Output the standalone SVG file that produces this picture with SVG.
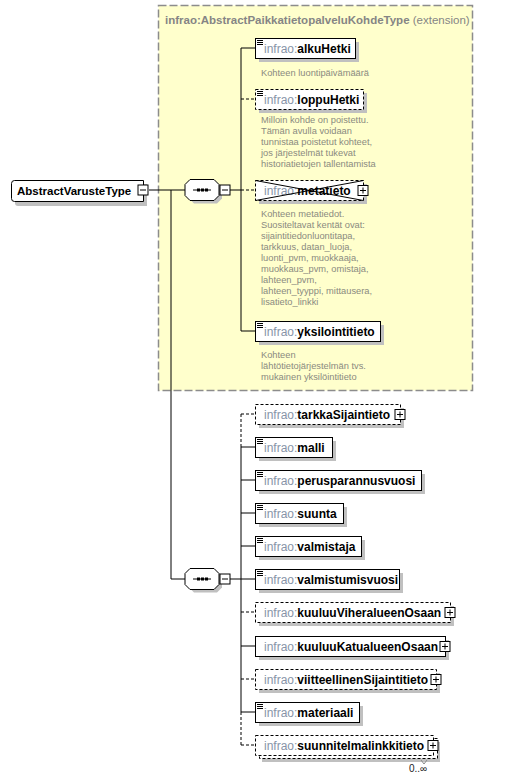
<svg xmlns="http://www.w3.org/2000/svg" width="515" height="780" viewBox="0 0 515 780">
<style>
text{font-family:"Liberation Sans",Arial,sans-serif}
.lbl{font-size:12px}
.pf{fill:#8794a8}
.nm{font-weight:bold;fill:#000}
.ds{font-size:9.3px;fill:#8a8a80}
.box{fill:#fff;stroke:#000;stroke-width:1}
.opt{fill:#fff;stroke:#000;stroke-width:1;stroke-dasharray:3 2}
.sh{fill:#c0c0c0}
.ic{stroke:#000;stroke-width:1;fill:none}
.pm{fill:#fff;stroke:#000;stroke-width:1}
.ln{stroke:#000;stroke-width:1;fill:none}
.dl{stroke:#000;stroke-width:1;fill:none;stroke-dasharray:3 2}
</style>
<defs>
<g id="plus"><rect class="pm" x="-5" y="-5" width="10" height="10"/><path class="ic" d="M-3 0H3M0 -3V3"/></g>
<g id="minus"><rect class="pm" x="0" y="-5" width="10" height="10"/><path class="ic" d="M2 0H8"/></g>
<g id="doc"><path class="ic" d="M0 0.5H6M0 2.5H6M0 4.5H6"/></g>
<g id="seq">
<path class="sh" d="M9 3H32L37 8V19L32 24H9L4 19V8Z"/>
<path class="box" d="M5 0H29L34 5V16L29 21H5L0 16V5Z"/>
<path class="ic" d="M8 10.5H26"/>
<rect x="12" y="9" width="3" height="3" fill="#000"/>
<rect x="16" y="9" width="3" height="3" fill="#000"/>
<rect x="20" y="9" width="3" height="3" fill="#000"/>
</g>
</defs>

<g id="extension">
<rect x="158.5" y="5.5" width="314" height="385" fill="#ffffcc" stroke="#8c8c8c" stroke-width="1.5" stroke-dasharray="8 3"/>
<text x="165" y="24" font-size="11.5" fill="#858585"><tspan font-weight="bold">infrao:AbstractPaikkatietopalveluKohdeType</tspan> (extension)</text>
</g>

<g id="connectors">
<path class="ln" d="M149 190H185"/>
<path class="ln" d="M171 190V579H185"/>
<path class="ln" d="M230 190H241"/>
<path class="ln" d="M241 48V331"/>
<path class="ln" d="M241 48H255"/>
<path class="dl" d="M241 99H255"/>
<path class="dl" d="M241 190H255"/>
<path class="ln" d="M241 331H255"/>
<path class="ln" d="M230 579H241"/>
<path class="dl" d="M241 414V447"/>
<path class="ln" d="M241 447V712"/>
<path class="dl" d="M241 712V745"/>
<path class="dl" d="M241 414H255"/>
<path class="ln" d="M241 447H255"/>
<path class="ln" d="M241 480H255"/>
<path class="ln" d="M241 513H255"/>
<path class="ln" d="M241 546H255"/>
<path class="ln" d="M241 579H255"/>
<path class="dl" d="M241 612H255"/>
<path class="ln" d="M241 646H255"/>
<path class="dl" d="M241 679H255"/>
<path class="ln" d="M241 712H255"/>
<path class="dl" d="M241 745H255"/>
</g>

<g id="AbstractVarusteType">
<path class="sh" d="M18 184H147V206H18Q15 206 15 203V187Q15 184 18 184Z"/>
<path class="box" d="M14.5 180.5H143.5V201.5H14.5Q11.5 201.5 11.5 198.5V183.5Q11.5 180.5 14.5 180.5Z"/>
<text x="17" y="195" class="nm" font-size="11.5">AbstractVarusteType</text>
<use href="#minus" x="138" y="190"/>
</g>

<g id="sequence1">
<use href="#seq" x="185" y="179.5"/>
<use href="#minus" x="220" y="190"/>
</g>

<g id="alkuHetki">
<rect class="sh" x="259" y="42" width="100" height="20"/>
<rect class="box" x="255.5" y="38.5" width="100" height="20"/>
<use href="#doc" x="257" y="40"/>
<text class="lbl" x="264" y="53"><tspan class="pf">infrao:</tspan><tspan class="nm">alkuHetki</tspan></text>
<text class="ds" x="261" y="76">Kohteen luontipäivämäärä</text>
</g>

<g id="loppuHetki">
<rect class="sh" x="259" y="93" width="108" height="20"/>
<rect class="opt" x="255.5" y="89.5" width="108" height="20"/>
<use href="#doc" x="257" y="91"/>
<text class="lbl" x="264" y="104"><tspan class="pf">infrao:</tspan><tspan class="nm">loppuHetki</tspan></text>
<text class="ds" x="261" y="123">Milloin kohde on poistettu.</text>
<text class="ds" x="261" y="134">Tämän avulla voidaan</text>
<text class="ds" x="261" y="145">tunnistaa poistetut kohteet,</text>
<text class="ds" x="261" y="156">jos järjestelmät tukevat</text>
<text class="ds" x="261" y="167">historiatietojen tallentamista</text>
</g>

<g id="metatieto">
<rect class="sh" x="259" y="184" width="108" height="20"/>
<rect class="opt" x="255.5" y="180.5" width="108" height="20"/>
<text class="lbl" x="264" y="195"><tspan class="pf">infrao:</tspan><tspan class="nm">metatieto</tspan></text>
<path class="ln" d="M255.5 180.5L363.5 200.5M255.5 200.5L363.5 180.5"/>
<use href="#plus" x="363" y="190.5"/>
<text class="ds" x="261" y="217">Kohteen metatiedot.</text>
<text class="ds" x="261" y="228">Suositeltavat kentät ovat:</text>
<text class="ds" x="261" y="239">sijaintitiedonluontitapa,</text>
<text class="ds" x="261" y="250">tarkkuus, datan_luoja,</text>
<text class="ds" x="261" y="261">luonti_pvm, muokkaaja,</text>
<text class="ds" x="261" y="272">muokkaus_pvm, omistaja,</text>
<text class="ds" x="261" y="283">lahteen_pvm,</text>
<text class="ds" x="261" y="294">lahteen_tyyppi, mittausera,</text>
<text class="ds" x="261" y="305">lisatieto_linkki</text>
</g>

<g id="yksilointitieto">
<rect class="sh" x="259" y="325" width="125" height="20"/>
<rect class="box" x="255.5" y="321.5" width="125" height="20"/>
<use href="#doc" x="257" y="323"/>
<text class="lbl" x="264" y="336"><tspan class="pf">infrao:</tspan><tspan class="nm">yksilointitieto</tspan></text>
<text class="ds" x="261" y="358">Kohteen</text>
<text class="ds" x="261" y="369">lähtötietojärjestelmän  tvs.</text>
<text class="ds" x="261" y="380">mukainen yksilöintitieto</text>
</g>

<g id="sequence2">
<use href="#seq" x="185" y="568.5"/>
<use href="#minus" x="220" y="579"/>
</g>

<g id="tarkkaSijaintieto">
<rect class="sh" x="259" y="408" width="145" height="20"/>
<rect class="opt" x="255.5" y="404.5" width="145" height="20"/>
<text class="lbl" x="264" y="419"><tspan class="pf">infrao:</tspan><tspan class="nm">tarkkaSijaintieto</tspan></text>
<use href="#plus" x="400" y="414.5"/>
</g>

<g id="malli">
<rect class="sh" x="259" y="441" width="77" height="20"/>
<rect class="box" x="255.5" y="437.5" width="77" height="20"/>
<use href="#doc" x="257" y="439"/>
<text class="lbl" x="264" y="452"><tspan class="pf">infrao:</tspan><tspan class="nm">malli</tspan></text>
</g>

<g id="perusparannusvuosi">
<rect class="sh" x="259" y="474" width="166" height="20"/>
<rect class="box" x="255.5" y="470.5" width="166" height="20"/>
<use href="#doc" x="257" y="472"/>
<text class="lbl" x="264" y="485"><tspan class="pf">infrao:</tspan><tspan class="nm">perusparannusvuosi</tspan></text>
</g>

<g id="suunta">
<rect class="sh" x="259" y="507" width="88" height="20"/>
<rect class="box" x="255.5" y="503.5" width="88" height="20"/>
<use href="#doc" x="257" y="505"/>
<text class="lbl" x="264" y="518"><tspan class="pf">infrao:</tspan><tspan class="nm">suunta</tspan></text>
</g>

<g id="valmistaja">
<rect class="sh" x="259" y="540" width="106" height="20"/>
<rect class="box" x="255.5" y="536.5" width="106" height="20"/>
<use href="#doc" x="257" y="538"/>
<text class="lbl" x="264" y="551"><tspan class="pf">infrao:</tspan><tspan class="nm">valmistaja</tspan></text>
</g>

<g id="valmistumisvuosi">
<rect class="sh" x="259" y="573" width="144" height="20"/>
<rect class="box" x="255.5" y="569.5" width="144" height="20"/>
<use href="#doc" x="257" y="571"/>
<text class="lbl" x="264" y="584"><tspan class="pf">infrao:</tspan><tspan class="nm">valmistumisvuosi</tspan></text>
</g>

<g id="kuuluuViheralueenOsaan">
<rect class="sh" x="259" y="606" width="195" height="20"/>
<rect class="opt" x="255.5" y="602.5" width="195" height="20"/>
<text class="lbl" x="264" y="617"><tspan class="pf">infrao:</tspan><tspan class="nm">kuuluuViheralueenOsaan</tspan></text>
<use href="#plus" x="450" y="612.5"/>
</g>

<g id="kuuluuKatualueenOsaan">
<rect class="sh" x="259" y="640" width="190" height="20"/>
<rect class="box" x="255.5" y="636.5" width="190" height="20"/>
<text class="lbl" x="264" y="651"><tspan class="pf">infrao:</tspan><tspan class="nm">kuuluuKatualueenOsaan</tspan></text>
<use href="#plus" x="445" y="646.5"/>
</g>

<g id="viitteellinenSijaintitieto">
<rect class="sh" x="259" y="673" width="181" height="20"/>
<rect class="opt" x="255.5" y="669.5" width="181" height="20"/>
<text class="lbl" x="264" y="684"><tspan class="pf">infrao:</tspan><tspan class="nm">viitteellinenSijaintitieto</tspan></text>
<use href="#plus" x="436" y="679.5"/>
</g>

<g id="materiaali">
<rect class="sh" x="259" y="706" width="104" height="20"/>
<rect class="box" x="255.5" y="702.5" width="104" height="20"/>
<use href="#doc" x="257" y="704"/>
<text class="lbl" x="264" y="717"><tspan class="pf">infrao:</tspan><tspan class="nm">materiaali</tspan></text>
</g>

<g id="suunnitelmalinkkitieto">
<rect class="sh" x="262" y="742" width="178" height="20"/>
<rect class="opt" x="259.5" y="738.5" width="178" height="20"/>
<rect class="opt" x="255.5" y="735.5" width="178" height="20"/>
<text class="lbl" x="264" y="750"><tspan class="pf">infrao:</tspan><tspan class="nm">suunnitelmalinkkitieto</tspan></text>
<use href="#plus" x="433" y="745.5"/>
<path d="M421 760L424 764L427 760" stroke="#888" stroke-width="1" fill="none"/>
<text x="409" y="772" font-size="10" fill="#222">0..∞</text>
</g>
</svg>
